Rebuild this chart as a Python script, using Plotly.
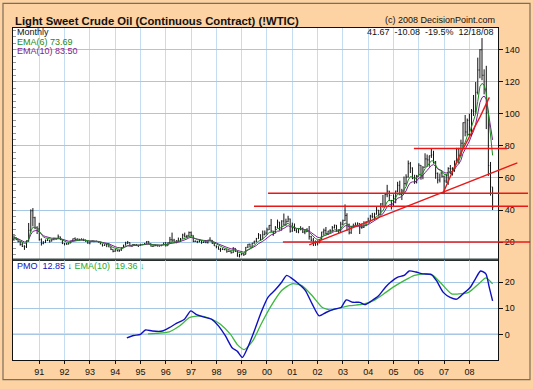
import pandas as pd
import plotly.graph_objects as go

# ---------------- data ----------------
months = pd.date_range("1990-01-01", periods=228, freq="MS")

open_ = [
    21.8, 22.7, 21.5, 20.3, 18.5, 17.4, 17.1, 20.7, 27.3, 39.5, 35.2, 28.9,   # 1990
    28.4, 21.5, 19.2, 19.6, 21.0, 21.1, 20.6, 21.7, 22.3, 22.2, 23.3, 21.5,   # 1991
    19.1, 18.9, 18.7, 19.4, 20.9, 22.1, 21.6, 21.9, 21.5, 21.7, 21.3, 20.3,   # 1992
    19.4, 20.3, 20.6, 20.4, 20.5, 19.9, 18.9, 17.9, 18.3, 18.8, 16.9, 15.4,   # 1993
    14.2, 15.2, 14.5, 14.7, 16.4, 18.1, 19.3, 19.7, 17.6, 18.4, 18.2, 18.1,   # 1994
    17.8, 18.4, 18.5, 19.2, 20.4, 18.9, 17.4, 17.6, 17.8, 17.5, 17.6, 18.2,   # 1995
    19.6, 17.7, 19.5, 21.5, 21.2, 19.8, 20.9, 20.4, 22.3, 24.4, 23.4, 23.8,   # 1996
    25.9, 24.2, 20.3, 20.4, 20.2, 20.9, 19.8, 20.1, 19.6, 21.2, 21.1, 19.2,   # 1997
    17.6, 17.2, 15.4, 15.6, 15.4, 15.2, 14.2, 14.2, 13.3, 16.1, 14.4, 11.2,   # 1998
    12.1, 12.8, 12.3, 16.8, 18.7, 16.8, 19.3, 20.5, 22.1, 24.5, 21.8, 24.6,   # 1999
    25.6, 27.6, 30.4, 26.9, 25.7, 29.0, 32.5, 27.4, 33.1, 30.8, 32.7, 34.4,   # 2000
    26.8, 28.7, 27.4, 26.3, 28.5, 28.4, 26.3, 26.4, 26.8, 23.4, 21.2, 19.4,   # 2001
    19.8, 19.5, 21.7, 26.3, 27.3, 25.3, 26.9, 27.0, 29.0, 30.5, 27.2, 26.9,   # 2002
    31.2, 33.5, 36.6, 31.0, 25.8, 29.6, 30.2, 30.5, 31.6, 29.2, 29.1, 30.4,   # 2003
    32.5, 33.1, 36.2, 35.8, 37.4, 39.9, 37.1, 43.8, 42.1, 49.6, 51.8, 49.1,   # 2004
    43.5, 48.2, 51.8, 55.4, 49.7, 52.0, 56.5, 60.6, 68.9, 66.2, 59.8, 57.3,   # 2005
    61.0, 67.9, 61.4, 66.6, 71.9, 71.3, 73.9, 74.4, 70.3, 62.9, 58.7, 63.1,   # 2006
    61.1, 58.1, 61.8, 65.9, 65.7, 64.0, 70.7, 78.2, 74.0, 81.7, 94.5, 88.7,   # 2007
    96.0, 91.8, 101.8, 101.6, 113.5, 127.4, 140.0, 124.1, 115.5, 100.6, 67.8, 54.4,  # 2008
]
high = [
    25.0, 23.0, 21.9, 20.6, 19.9, 18.0, 21.0, 31.9, 40.4, 41.2, 35.8, 29.9,
    32.0, 22.3, 20.6, 21.6, 21.8, 21.3, 22.0, 22.7, 22.5, 24.7, 23.4, 21.6,
    19.5, 19.5, 19.7, 20.9, 22.2, 22.9, 22.3, 22.0, 22.3, 22.1, 21.4, 20.4,
    20.6, 21.0, 20.9, 20.9, 20.6, 19.9, 18.9, 18.6, 18.9, 19.2, 17.1, 15.5,
    15.5, 15.2, 15.1, 16.6, 18.3, 20.2, 20.7, 19.8, 18.4, 18.8, 18.8, 18.2,
    18.9, 18.9, 19.3, 20.6, 20.5, 19.2, 17.9, 18.4, 18.2, 17.8, 18.3, 19.6,
    19.9, 19.8, 23.2, 25.9, 22.0, 21.0, 22.8, 22.5, 25.2, 25.9, 24.5, 26.6,
    26.6, 24.2, 21.1, 20.8, 21.6, 21.1, 20.4, 20.5, 21.4, 23.0, 21.3, 19.4,
    17.8, 17.2, 16.4, 16.2, 15.8, 15.3, 14.8, 14.3, 16.8, 16.2, 14.5, 12.7,
    13.3, 13.0, 16.9, 18.8, 19.0, 19.5, 20.8, 22.6, 25.6, 24.8, 27.2, 27.2,
    29.0, 30.6, 34.4, 27.0, 30.0, 34.0, 32.5, 33.6, 37.8, 34.6, 36.4, 34.6,
    32.1, 31.6, 28.4, 28.8, 29.9, 29.1, 27.6, 28.7, 30.0, 23.9, 22.6, 21.0,
    21.0, 21.9, 26.4, 28.4, 29.4, 27.0, 28.0, 30.0, 30.9, 30.6, 28.0, 32.7,
    34.0, 43.5, 38.0, 31.5, 30.0, 31.5, 32.2, 32.3, 31.7, 31.6, 33.0, 33.0,
    35.2, 37.0, 38.2, 38.3, 42.3, 40.0, 44.3, 49.4, 50.5, 55.7, 52.0, 46.3,
    49.8, 52.1, 57.6, 58.3, 53.2, 60.9, 62.3, 70.9, 70.0, 66.6, 62.0, 61.9,
    69.2, 68.0, 67.4, 75.4, 74.6, 73.9, 78.4, 77.0, 70.5, 63.4, 62.7, 64.1,
    61.4, 62.3, 66.7, 68.1, 66.7, 70.7, 78.8, 78.8, 83.9, 94.7, 99.3, 97.1,
    100.1, 103.0, 111.8, 119.9, 135.1, 140.4, 147.3, 127.8, 130.0, 102.0, 70.0, 54.3,
]
low = [
    20.8, 21.2, 19.8, 17.8, 16.9, 15.1, 16.3, 20.2, 26.3, 29.8, 28.0, 25.0,
    20.9, 17.8, 18.6, 19.4, 20.6, 19.6, 20.4, 21.1, 21.3, 22.0, 21.3, 18.7,
    17.9, 18.3, 18.6, 19.3, 20.6, 21.4, 21.5, 20.9, 21.3, 20.6, 20.2, 18.9,
    18.6, 20.1, 19.9, 20.0, 19.7, 18.6, 17.2, 17.6, 16.8, 16.8, 15.0, 13.6,
    13.9, 14.2, 13.9, 14.6, 16.3, 17.8, 18.7, 17.4, 16.9, 17.5, 17.5, 16.9,
    17.6, 18.2, 18.3, 19.1, 18.6, 17.2, 16.9, 17.4, 17.3, 17.2, 17.5, 18.1,
    17.2, 17.7, 19.3, 20.0, 19.3, 19.2, 20.2, 20.3, 22.2, 22.9, 22.4, 23.5,
    23.6, 20.0, 20.1, 19.3, 19.8, 18.9, 19.4, 19.3, 19.1, 20.7, 18.9, 17.6,
    16.1, 15.3, 13.9, 15.0, 14.9, 13.3, 13.9, 12.8, 13.2, 13.8, 10.9, 10.4,
    11.8, 11.3, 12.3, 16.3, 16.6, 16.3, 18.9, 19.9, 22.0, 20.8, 21.7, 24.2,
    24.5, 27.5, 26.3, 23.9, 25.5, 28.8, 27.3, 27.3, 30.2, 30.2, 32.4, 25.9,
    26.4, 26.8, 25.8, 25.5, 27.3, 25.6, 24.9, 26.3, 21.5, 20.5, 17.5, 17.6,
    17.9, 19.3, 21.6, 24.4, 25.0, 24.4, 25.7, 26.4, 28.4, 26.5, 25.0, 26.4,
    30.7, 33.0, 26.9, 24.8, 25.1, 28.8, 29.8, 30.2, 25.0, 28.3, 28.8, 29.9,
    32.2, 32.9, 34.8, 33.8, 37.1, 35.9, 37.2, 41.5, 41.7, 48.0, 45.6, 40.3,
    42.1, 44.2, 51.1, 49.2, 46.2, 50.4, 55.2, 60.3, 63.1, 59.2, 56.3, 56.6,
    61.0, 58.9, 59.2, 66.6, 67.0, 67.0, 72.5, 69.0, 59.5, 56.6, 57.2, 60.3,
    49.9, 56.8, 55.7, 62.4, 61.5, 64.0, 69.1, 69.0, 73.6, 79.1, 86.0, 86.3,
    86.1, 86.1, 98.7, 100.0, 112.1, 122.2, 121.0, 112.2, 90.5, 61.3, 49.0, 40.0,
]
close = [
    22.68, 21.54, 20.28, 18.54, 17.40, 17.07, 20.69, 27.32, 39.51, 35.23, 28.85, 28.44,
    21.54, 19.16, 19.63, 20.96, 21.13, 20.56, 21.68, 22.26, 22.23, 23.26, 21.48, 19.12,
    18.90, 18.68, 19.44, 20.85, 22.11, 21.60, 21.87, 21.48, 21.71, 21.26, 20.34, 19.41,
    20.26, 20.60, 20.44, 20.53, 19.94, 18.85, 17.88, 18.29, 18.79, 16.92, 15.43, 14.17,
    15.19, 14.48, 14.66, 16.38, 18.07, 19.31, 19.65, 17.56, 18.39, 18.19, 18.05, 17.76,
    18.39, 18.49, 19.17, 20.38, 18.89, 17.40, 17.56, 17.84, 17.54, 17.64, 18.18, 19.55,
    17.74, 19.54, 21.47, 21.20, 19.76, 20.92, 20.42, 22.25, 24.38, 23.35, 23.75, 25.92,
    24.15, 20.30, 20.41, 20.21, 20.88, 19.80, 20.14, 19.61, 21.18, 21.08, 19.15, 17.64,
    17.21, 15.44, 15.61, 15.39, 15.20, 14.18, 14.21, 13.34, 16.14, 14.42, 11.22, 12.05,
    12.75, 12.27, 16.76, 18.66, 16.84, 19.29, 20.53, 22.10, 24.51, 21.75, 24.59, 25.60,
    27.64, 30.43, 26.90, 25.74, 29.01, 32.50, 27.43, 33.12, 30.84, 32.70, 34.40, 26.80,
    28.66, 27.39, 26.29, 28.46, 28.37, 26.25, 26.35, 26.82, 23.43, 21.18, 19.44, 19.84,
    19.48, 21.74, 26.31, 27.29, 25.31, 26.86, 27.02, 28.98, 30.45, 27.22, 26.89, 31.20,
    33.51, 36.60, 31.04, 25.80, 29.56, 30.19, 30.54, 31.57, 29.20, 29.11, 30.41, 32.52,
    33.05, 36.16, 35.76, 37.38, 39.88, 37.05, 43.80, 42.12, 49.64, 51.76, 49.13, 43.45,
    48.20, 51.75, 55.40, 49.72, 51.97, 56.50, 60.57, 68.94, 66.24, 59.76, 57.32, 61.04,
    67.92, 61.41, 66.63, 71.88, 71.29, 73.93, 74.40, 70.26, 62.91, 58.73, 63.13, 61.05,
    58.14, 61.79, 65.87, 65.71, 64.01, 70.68, 78.21, 74.04, 81.66, 94.53, 88.71, 95.98,
    91.75, 101.84, 101.58, 113.46, 127.35, 140.00, 124.08, 115.46, 100.64, 67.81, 54.43, 41.67,
]

pmo_dates = ["1994-06-18", "1994-09-24", "1995-01-01", "1995-03-14", "1995-06-21", "1995-11-13",
             "1996-02-21", "1996-05-27", "1996-09-27", "1996-12-28", "1997-03-14", "1997-06-25",
             "1997-10-27", "1998-02-03", "1998-05-12", "1998-08-19", "1998-10-31", "1999-01-12",
             "1999-03-26", "1999-07-02", "1999-10-08", "2000-01-15", "2000-04-20", "2000-07-31",
             "2000-10-12", "2000-12-24", "2001-04-02", "2001-07-09", "2001-10-16", "2002-01-23",
             "2002-05-01", "2002-08-30", "2002-12-06", "2003-02-17", "2003-05-27", "2003-09-02",
             "2003-11-14", "2004-02-21", "2004-05-30", "2004-09-06", "2004-11-18", "2005-02-25",
             "2005-06-03", "2005-08-15", "2005-11-22", "2006-02-28", "2006-06-28", "2006-09-13",
             "2006-12-20", "2007-03-29", "2007-07-02", "2007-10-08", "2008-01-15", "2008-03-28",
             "2008-06-10", "2008-08-26", "2008-10-13", "2008-12-01"]
pmo_values = [-1.3, -0.4, 0.0, 1.7, 1.3, 1.3,
              2.6, 4.1, 5.8, 9.0, 7.7, 6.7,
              5.8, 3.2, -0.6, -5.2, -6.5, -8.8,
              -5.2, 1.3, 8.4, 14.2, 16.8, 20.0,
              22.6, 21.5, 19.4, 16.8, 11.6, 7.1,
              8.4, 9.7, 10.3, 13.2, 12.3, 12.3,
              11.4, 12.9, 14.8, 18.1, 20.0, 21.9,
              22.6, 24.3, 23.9, 23.2, 23.0, 20.6,
              16.1, 14.2, 13.5, 15.7, 18.1, 21.3,
              24.3, 23.2, 18.1, 12.85]

sig_dates = ["1995-04-20", "1995-08-08", "1996-02-21", "1996-07-16", "1996-12-13", "1997-05-08",
             "1997-10-01", "1998-02-28", "1998-07-24", "1998-10-31", "1999-02-06", "1999-06-07",
             "1999-10-08", "2000-03-03", "2000-07-31", "2000-12-24", "2001-05-19", "2001-10-16",
             "2002-03-11", "2002-07-13", "2002-11-10", "2003-04-09", "2003-10-19", "2004-03-17",
             "2004-08-11", "2005-01-08", "2005-06-03", "2005-10-31", "2006-03-26", "2006-07-24",
             "2006-11-25", "2007-04-20", "2007-07-27", "2007-12-20", "2008-05-16", "2008-08-26",
             "2008-12-01"]
sig_values = [0.2, 0.4, 1.0, 3.2, 6.5, 7.1,
              6.1, 3.9, 0.0, -3.9, -5.8, -2.6,
              3.9, 11.0, 16.8, 19.4, 18.7, 14.8,
              10.3, 9.3, 10.1, 11.0, 11.6, 12.9,
              15.5, 18.3, 20.6, 22.6, 23.2, 22.6,
              19.4, 15.5, 15.5, 16.1, 19.4, 21.7,
              19.36]

# analyst's red lines: (price, start date, end date)
red_hlines = [(20.0, "2000-08-18", "2010-05-26"),
              (42.3, "1999-06-28", "2010-04-27"),
              (50.5, "2000-01-15", "2010-04-27"),
              (78.4, "2005-10-22", "2009-06-28")]
red_trend = [("2001-09-02", 18.2), ("2009-11-24", 69.4)]
red_steep = [("2006-12-16", 50.5), ("2007-08-17", 74.5), ("2008-06-03", 98.1), ("2008-10-15", 110.3)]

years = list(range(1991, 2009))
year_ticks = [f"{y}-01-01" for y in years]
year_text = [f"{y % 100:02d}" for y in years]

price_ticks = [20, 40, 60, 80, 100, 120, 140]
price_minor = list(range(12, 153, 4))
pmo_ticks = [0, 10, 20]

# ---------------- styling ----------------
W, H = 533, 389
L, R, T, B = 13, 498, 28, 365
SPLIT = 263
BG = "#FDD3A3"
GRID_X = "#C4DDF0"
GRID_Y = "#A6C8E4"
FONT = "Arial, Liberation Sans, sans-serif"
X0, X1 = pd.Timestamp("1989-12-18"), pd.Timestamp("2009-02-17")
Y_PRICE = [9.1, 153.6]


def px_x(x):
    return (x - L) / (R - L)


def px_y(y):
    return (B - y) / (B - T)


def date_paper(d):
    return (pd.Timestamp(d) - X0) / (X1 - X0)


ema6 = pd.Series(close).ewm(span=6, adjust=False).mean()
ema10 = pd.Series(close).ewm(span=10, adjust=False).mean()

fig = go.Figure()
fig.add_trace(go.Ohlc(x=months, open=open_, high=high, low=low, close=close,
                      increasing=dict(line=dict(color="#111111", width=1)),
                      decreasing=dict(line=dict(color="#111111", width=1)),
                      tickwidth=0.35, xaxis="x", yaxis="y", hoverinfo="skip"))
fig.add_trace(go.Scatter(x=months, y=ema10, mode="lines", line=dict(color="#7a1f8c", width=1),
                         xaxis="x", yaxis="y", hoverinfo="skip"))
fig.add_trace(go.Scatter(x=months, y=ema6, mode="lines", line=dict(color="#1a8a1a", width=1),
                         xaxis="x", yaxis="y", hoverinfo="skip"))
fig.add_trace(go.Scatter(x=pd.to_datetime(sig_dates), y=sig_values, mode="lines",
                         line=dict(color="#3cb83c", width=1.3, shape="spline", smoothing=0.6),
                         xaxis="x2", yaxis="y2", hoverinfo="skip"))
fig.add_trace(go.Scatter(x=pd.to_datetime(pmo_dates), y=pmo_values, mode="lines",
                         line=dict(color="#1010c0", width=1.4, shape="spline", smoothing=0.6),
                         xaxis="x2", yaxis="y2", hoverinfo="skip"))
# invisible trace that carries the left-edge minor tick axis
fig.add_trace(go.Scatter(x=[months[0]], y=[price_minor[0]], mode="markers", opacity=0,
                         xaxis="x", yaxis="y3", hoverinfo="skip"))

shapes = []
shapes.append(dict(type="line", xref="paper", yref="y2", x0=0, x1=1, y0=0, y1=0,
                   line=dict(color="#cc6a10", width=1.3), layer="below"))
for price, d0, d1 in red_hlines:
    shapes.append(dict(type="line", xref="paper", yref="y", x0=date_paper(d0), x1=date_paper(d1),
                       y0=price, y1=price, line=dict(color="#e81818", width=1.4)))
shapes.append(dict(type="line", xref="paper", yref="y",
                   x0=date_paper(red_trend[0][0]), y0=red_trend[0][1],
                   x1=date_paper(red_trend[1][0]), y1=red_trend[1][1],
                   line=dict(color="#e81818", width=1.4)))
for (da, pa), (db, pb) in zip(red_steep[:-1], red_steep[1:]):
    shapes.append(dict(type="line", xref="paper", yref="y", x0=date_paper(da), y0=pa,
                       x1=date_paper(db), y1=pb, line=dict(color="#e81818", width=1.4)))
shapes.append(dict(type="line", xref="paper", yref="paper", x0=0, x1=1,
                   y0=px_y(SPLIT), y1=px_y(SPLIT), line=dict(color="#3d4a4a", width=2)))
shapes.append(dict(type="rect", xref="paper", yref="paper", x0=px_x(3), x1=px_x(530),
                   y0=px_y(385), y1=px_y(3), line=dict(color="#7d6d5a", width=1.2), layer="below"))

ann = []
ann.append(dict(text="<b>Light Sweet Crude Oil (Continuous Contract) (!WTIC)</b>", x=px_x(13), y=px_y(21),
                xanchor="left", yanchor="middle", font=dict(size=11.3, color="#111111", family=FONT)))
ann.append(dict(text="(c) 2008 DecisionPoint.com", x=px_x(497), y=px_y(20), xanchor="right",
                yanchor="middle", font=dict(size=9, color="#111111", family=FONT)))
ann.append(dict(text="Monthly", x=px_x(15), y=px_y(32), xanchor="left", yanchor="middle",
                font=dict(size=9, color="#111111", family=FONT)))
ann.append(dict(text="EMA(6) 73.69", x=px_x(15), y=px_y(42), xanchor="left", yanchor="middle",
                font=dict(size=9, color="#1a8a1a", family=FONT)))
ann.append(dict(text="EMA(10) 83.50", x=px_x(15), y=px_y(51.5), xanchor="left", yanchor="middle",
                font=dict(size=9, color="#7a1f8c", family=FONT)))
ann.append(dict(text="41.67\u00a0\u00a0-10.08\u00a0\u00a0-19.5%\u00a0\u00a012/18/08", x=px_x(496), y=px_y(32),
                xanchor="right", yanchor="middle", font=dict(size=9, color="#111111", family=FONT)))
ann.append(dict(text="<span style='color:#1010c0'>PMO\u00a0\u00a012.85\u00a0<b>\u2193</b></span>\u00a0"
                     "<span style='color:#2aa82a'>EMA(10)\u00a0\u00a019.36\u00a0<b>\u2193</b></span>",
                x=px_x(15), y=px_y(269.5), xanchor="left", yanchor="middle",
                font=dict(size=9, family=FONT)))
for a in ann:
    a.update(xref="paper", yref="paper", showarrow=False)

line_common = dict(showline=True, mirror=True, linecolor="#111111", linewidth=1, zeroline=False)

fig.update_layout(
    width=W, height=H,
    margin=dict(l=L, r=W - R, t=T, b=H - B, pad=0),
    paper_bgcolor=BG, plot_bgcolor="white",
    showlegend=False,
    font=dict(family=FONT, size=9, color="#111111"),
    xaxis=dict(domain=[0, 1], anchor="y", range=[X0, X1], type="date",
               tickvals=year_ticks, showticklabels=False, ticks="",
               gridcolor=GRID_X, rangeslider=dict(visible=False), **line_common),
    xaxis2=dict(domain=[0, 1], anchor="y2", matches="x", type="date",
                tickvals=year_ticks, ticktext=year_text, ticks="outside", ticklen=3,
                tickcolor="#111111", tickfont=dict(size=9, family=FONT),
                gridcolor=GRID_X, rangeslider=dict(visible=False), **line_common),
    yaxis=dict(domain=[px_y(SPLIT), 1], anchor="x", side="right", range=Y_PRICE,
               tickvals=price_ticks, ticks="outside", ticklen=4, tickcolor="#111111",
               tickfont=dict(size=9, family=FONT), gridcolor=GRID_Y, **line_common),
    yaxis3=dict(overlaying="y", anchor="x", side="left", range=Y_PRICE, tickvals=price_minor,
                ticks="inside", ticklen=3, tickcolor="#9a9a9a", showticklabels=False,
                showgrid=False, zeroline=False, showline=False),
    yaxis2=dict(domain=[0, px_y(SPLIT)], anchor="x2", side="right", range=[-9.8, 28.7],
                tickvals=pmo_ticks, ticks="outside", ticklen=4, tickcolor="#111111",
                tickfont=dict(size=9, family=FONT), gridcolor=GRID_Y, **line_common),
    shapes=shapes,
    annotations=ann,
)

fig.write_html("out.html", config={"displayModeBar": False, "staticPlot": True},
               post_script="document.body.style.margin='0';document.body.style.padding='0';"
                           "document.body.style.overflow='hidden';")
